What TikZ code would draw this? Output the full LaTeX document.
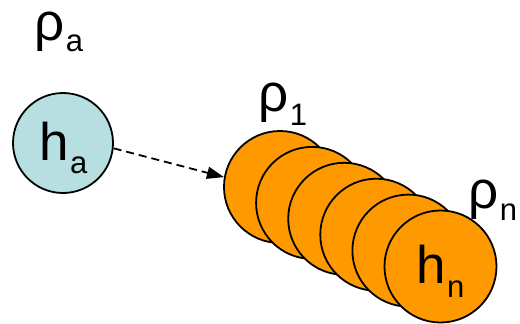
\documentclass[tikz,border=0pt]{standalone}
\usepackage{fontspec}
\setmainfont{Liberation Sans}
\usetikzlibrary{arrows.meta}
\definecolor{cellblue}{RGB}{183,223,226}
\definecolor{cellorange}{RGB}{255,153,0}
% symbol with lowered subscript: #1 main, #2 subscript, #3 drop in pt
\newcommand{\symsub}[3]{{\fontsize{53}{60}\selectfont #1}\kern1.5pt\raisebox{-#3pt}{\fontsize{31}{36}\selectfont #2}}

\begin{document}
\begin{tikzpicture}[x=1pt, y=-1pt,
  cell/.style={circle, draw, line width=1.8pt, inner sep=0pt, fill=#1},
  cell/.default=cellorange,
  lbl/.style={inner sep=0pt, anchor=base west},
  dasharr/.style={-{Triangle[length=17pt, width=12pt]}, line width=1.8pt,
                  dash pattern=on 8pt off 5pt}]
\useasboundingbox (0,0) rectangle (520,324);
\node[cell=cellblue, minimum size=100pt] (a) at (63,143) {};
\foreach \i in {1,...,6}
  \node[cell, minimum size=112pt] (o\i) at ({280+32.1*(\i-1)},{187+15.9*(\i-1)}) {};
\node[lbl] (ra) at (34,41) {\symsub{ρ}{a}{11}};
\node[lbl] (ha) at (39,160) {\symsub{h}{a}{13}};
\node[lbl] (r1) at (258,111) {\symsub{ρ}{1}{14}};
\node[lbl] (rn) at (468,208) {\symsub{ρ}{n}{12}};
\node[lbl] (hn) at (416,283) {\symsub{h}{n}{14}};
\draw[dasharr] (a.-6) -- (o1.170);
\end{tikzpicture}
\end{document}
